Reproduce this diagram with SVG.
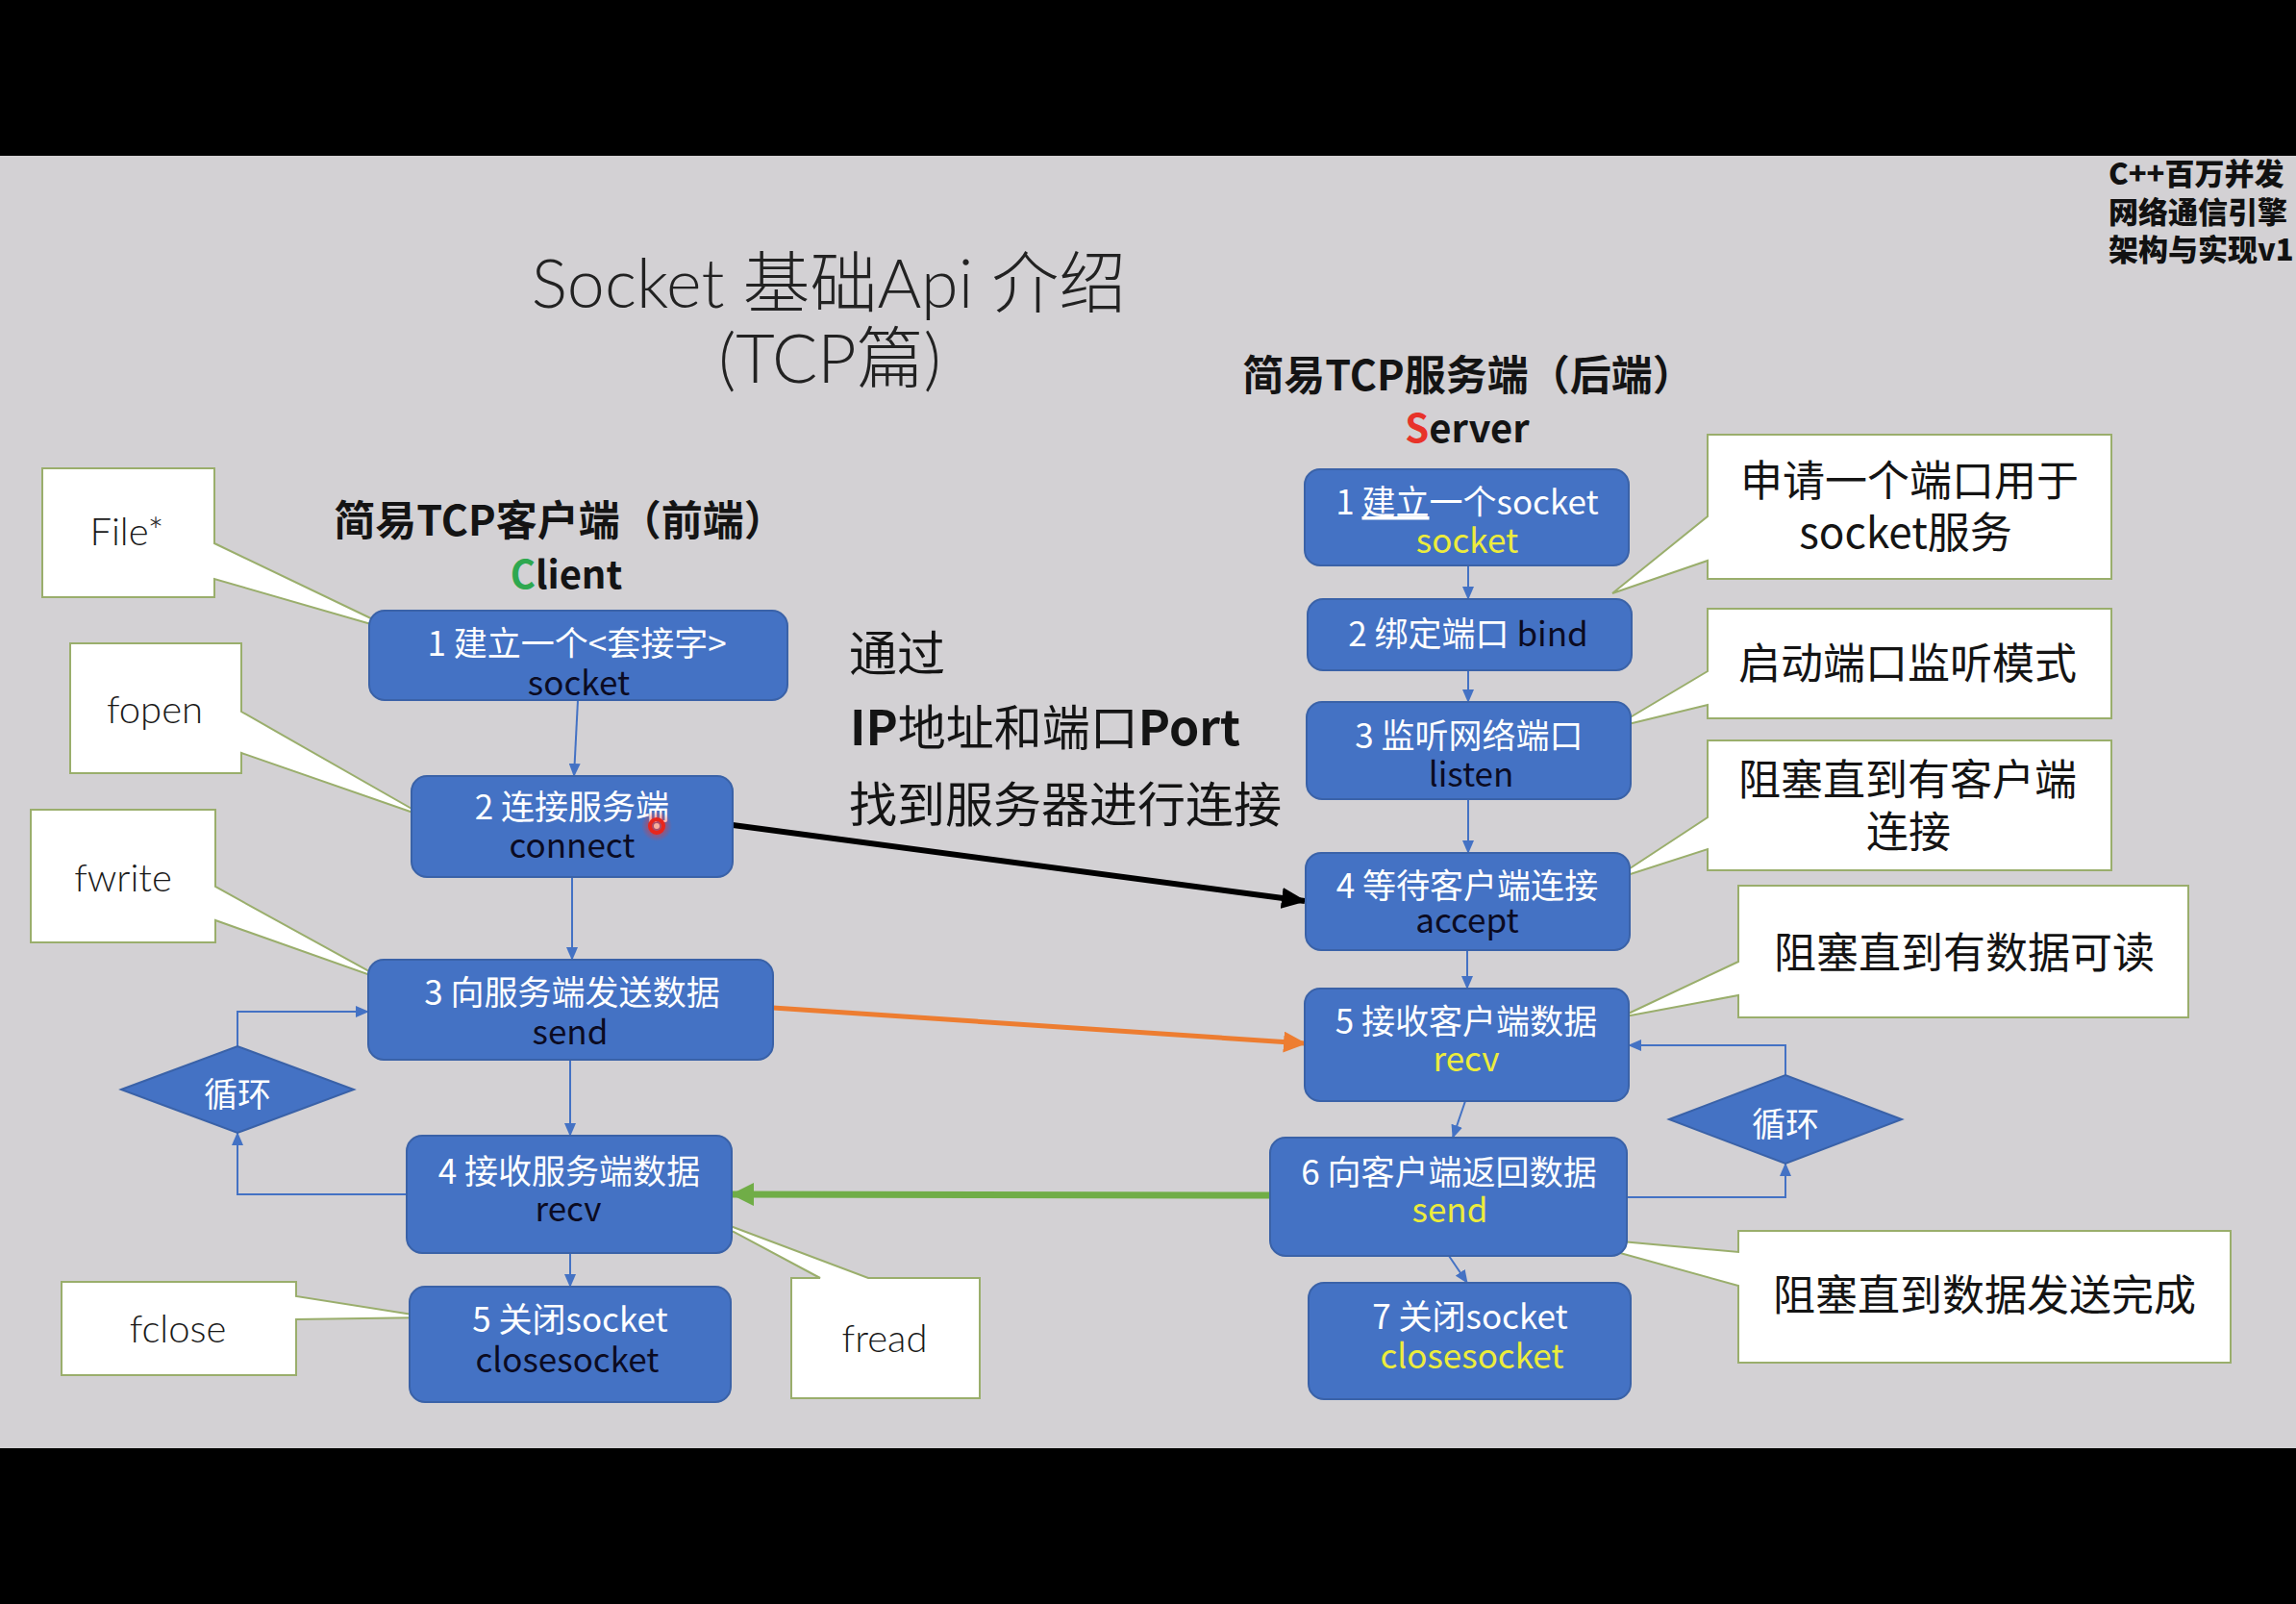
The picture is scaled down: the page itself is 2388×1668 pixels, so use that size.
<svg xmlns="http://www.w3.org/2000/svg" width="2388" height="1668" viewBox="0 0 2388 1668">
<defs>
<style>
.bg{fill:#d3d1d4}
.box{fill:#4472c4;stroke:#3a62a8;stroke-width:2}
.dia{fill:#4472c4;stroke:#3a62a8;stroke-width:2}
.callout{fill:#ffffff;stroke:#9aae6c;stroke-width:2;stroke-linejoin:miter}
.cjk{font-family:"Noto Sans CJK SC","Noto Sans",sans-serif}
.bt{font-family:"Noto Sans CJK SC","Noto Sans",sans-serif;font-size:35px;text-anchor:middle}
.w{fill:#ffffff}
.k{fill:#0b0b22}
.y{fill:#ecec3c}
.lat{font-family:Lato,"Noto Sans CJK SC",sans-serif;font-weight:300;font-size:40px;fill:#1a1a1a;text-anchor:middle}
.ct{font-family:"Noto Sans CJK SC",sans-serif;font-size:44px;fill:#141414;text-anchor:middle}
.head{font-family:"Noto Sans CJK SC",sans-serif;font-weight:bold;font-size:43px;fill:#141414;text-anchor:middle}
.flow{stroke:#4472c4;stroke-width:2;fill:none}
</style>
<marker id="ab" markerUnits="userSpaceOnUse" markerWidth="14" markerHeight="12" refX="13" refY="6" orient="auto"><path d="M0,0 L14,6 L0,12 z" fill="#4472c4"/></marker>
<marker id="ak" markerUnits="userSpaceOnUse" markerWidth="26" markerHeight="22" refX="24" refY="11" orient="auto"><path d="M0,0 L26,11 L0,22 z" fill="#000"/></marker>
<marker id="ao" markerUnits="userSpaceOnUse" markerWidth="24" markerHeight="22" refX="22" refY="11" orient="auto"><path d="M0,0 L24,11 L0,22 z" fill="#ed7d31"/></marker>
<marker id="ag" markerUnits="userSpaceOnUse" markerWidth="24" markerHeight="24" refX="22" refY="12" orient="auto"><path d="M0,0 L24,12 L0,24 z" fill="#70ad47"/></marker>
<radialGradient id="glow"><stop offset="0.4" stop-color="#ff3020" stop-opacity="0.55"/><stop offset="1" stop-color="#ff3020" stop-opacity="0"/></radialGradient>
</defs>

<rect x="0" y="0" width="2388" height="1668" fill="#000"/>
<rect class="bg" x="0" y="162" width="2388" height="1344"/>

<g id="title">
<text font-family="Lato,'Noto Sans CJK SC',sans-serif" font-weight="300" font-size="70" fill="#222" text-anchor="middle"><tspan x="862" y="320">Socket 基础Api 介绍</tspan><tspan x="863" y="398">(TCP篇)</tspan></text>
</g>

<g id="watermark">
<text font-family="'Noto Sans CJK SC',sans-serif" font-weight="900" font-size="31" fill="#111"><tspan x="2193" y="192">C++百万并发</tspan><tspan x="2193" y="232">网络通信引擎</tspan><tspan x="2193" y="271">架构与实现v1</tspan></text>
</g>

<g id="client-heading">
<text class="head"><tspan x="582" y="557">简易TCP客户端（前端）</tspan><tspan x="589" y="612" font-size="40"><tspan fill="#2ea84f">C</tspan>lient</tspan></text>
</g>
<g id="server-heading">
<text class="head"><tspan x="1527" y="406">简易TCP服务端（后端）</tspan><tspan x="1526" y="460" font-size="40"><tspan fill="#e8332a">S</tspan>erver</tspan></text>
</g>

<g id="middle-text">
<text class="cjk" font-size="50" fill="#141414"><tspan x="883" y="698">通过</tspan><tspan x="884" y="775"><tspan font-weight="bold">IP</tspan>地址和端口<tspan font-weight="bold">Port</tspan></tspan><tspan x="883" y="855">找到服务器进行连接</tspan></text>
</g>

<g id="connectors">
<path class="flow" d="M601,728 L597,807" marker-end="url(#ab)"/>
<path class="flow" d="M595,912 L595,998" marker-end="url(#ab)"/>
<path class="flow" d="M593,1102 L593,1181" marker-end="url(#ab)"/>
<path class="flow" d="M593,1303 L593,1338" marker-end="url(#ab)"/>
<path class="flow" d="M423,1242 H247 V1178" marker-end="url(#ab)"/>
<path class="flow" d="M247,1088 V1052 H383" marker-end="url(#ab)"/>
<path class="flow" d="M1527,588 L1527,623" marker-end="url(#ab)"/>
<path class="flow" d="M1527,697 L1527,730" marker-end="url(#ab)"/>
<path class="flow" d="M1527,831 L1527,887" marker-end="url(#ab)"/>
<path class="flow" d="M1526,988 L1526,1028" marker-end="url(#ab)"/>
<path class="flow" d="M1524,1145 L1511,1183" marker-end="url(#ab)"/>
<path class="flow" d="M1507,1306 L1526,1334" marker-end="url(#ab)"/>
<path class="flow" d="M1692,1245 H1857 V1210" marker-end="url(#ab)"/>
<path class="flow" d="M1857,1118 V1087 H1694" marker-end="url(#ab)"/>
<path d="M762,858 L1357,937" stroke="#000" stroke-width="6" fill="none" marker-end="url(#ak)"/>
<path d="M804,1048 L1357,1085" stroke="#ed7d31" stroke-width="5" fill="none" marker-end="url(#ao)"/>
<path d="M1321,1243 L762,1242" stroke="#70ad47" stroke-width="7" fill="none" marker-end="url(#ag)"/>
</g>

<g id="callout-file"><path class="callout" d="M44,487 H223 V565 L417,658 L223,602 V621 H44 Z"/><text class="lat" x="132" y="567">File*</text></g>
<g id="callout-fopen"><path class="callout" d="M73,669 H251 V740 L444,850 L251,783 V804 H73 Z"/><text class="lat" x="161" y="752">fopen</text></g>
<g id="callout-fwrite"><path class="callout" d="M32,842 H224 V922 L402,1020 L224,957 V980 H32 Z"/><text class="lat" x="128" y="927">fwrite</text></g>
<g id="callout-fclose"><path class="callout" d="M64,1333 H308 V1348 L448,1370 L308,1372 V1430 H64 Z"/><text class="lat" x="185" y="1396">fclose</text></g>
<g id="callout-fread"><path class="callout" d="M823,1329 H853 L733,1265 L903,1329 H1019 V1454 H823 Z"/><text class="lat" x="920" y="1406">fread</text></g>

<g id="callout-a"><path class="callout" d="M1776,452 H2196 V602 H1776 V583 L1677,617 L1776,537 Z"/><text class="ct"><tspan x="1986" y="516">申请一个端口用于</tspan><tspan x="1982" y="570">socket服务</tspan></text></g>
<g id="callout-b"><path class="callout" d="M1776,633 H2196 V747 H1776 V733 L1677,757 L1776,698 Z"/><text class="ct" x="1984" y="706">启动端口监听模式</text></g>
<g id="callout-c"><path class="callout" d="M1776,770 H2196 V905 H1776 V883 L1677,915 L1776,850 Z"/><text class="ct"><tspan x="1984" y="827">阻塞直到有客户端</tspan><tspan x="1985" y="881">连接</tspan></text></g>
<g id="callout-d"><path class="callout" d="M1808,921 H2276 V1058 H1808 V1035 L1685,1058 L1808,1000 Z"/><text class="ct" x="2043" y="1007">阻塞直到有数据可读</text></g>
<g id="callout-e"><path class="callout" d="M1808,1280 H2320 V1417 H1808 V1337 L1620,1285 L1808,1302 Z"/><text class="ct" x="2064" y="1363">阻塞直到数据发送完成</text></g>

<g id="c1"><rect class="box" x="384" y="635" width="435" height="93" rx="16"/><text class="bt"><tspan class="w" x="600" y="682">1 建立一个&lt;套接字&gt;</tspan><tspan class="k" x="602" y="723">socket</tspan></text></g>
<g id="c2"><rect class="box" x="428" y="807" width="334" height="105" rx="16"/><text class="bt"><tspan class="w" x="595" y="852">2 连接服务端</tspan><tspan class="k" x="595" y="892">connect</tspan></text></g>
<g id="c3"><rect class="box" x="383" y="998" width="421" height="104" rx="16"/><text class="bt"><tspan class="w" x="595" y="1045">3 向服务端发送数据</tspan><tspan class="k" x="593" y="1086">send</tspan></text></g>
<g id="c4"><rect class="box" x="423" y="1181" width="338" height="122" rx="16"/><text class="bt"><tspan class="w" x="592" y="1231">4 接收服务端数据</tspan><tspan class="k" x="591" y="1270">recv</tspan></text></g>
<g id="c5"><rect class="box" x="426" y="1338" width="334" height="120" rx="16"/><text class="bt"><tspan class="w" x="593" y="1385">5 关闭socket</tspan><tspan class="k" x="590" y="1427">closesocket</tspan></text></g>

<g id="s1"><rect class="box" x="1357" y="488" width="337" height="100" rx="16"/><text class="bt"><tspan class="w" x="1526" y="535">1 <tspan text-decoration="underline">建立</tspan>一个socket</tspan><tspan class="y" x="1526" y="575">socket</tspan></text></g>
<g id="s2"><rect class="box" x="1360" y="623" width="337" height="74" rx="16"/><text class="bt w" x="1527" y="672">2 绑定端口 <tspan class="k">bind</tspan></text></g>
<g id="s3"><rect class="box" x="1359" y="730" width="337" height="101" rx="16"/><text class="bt"><tspan class="w" x="1528" y="778">3 监听网络端口</tspan><tspan class="k" x="1530" y="818">listen</tspan></text></g>
<g id="s4"><rect class="box" x="1358" y="887" width="337" height="101" rx="16"/><text class="bt"><tspan class="w" x="1526" y="934">4 等待客户端连接</tspan><tspan class="k" x="1526" y="970">accept</tspan></text></g>
<g id="s5"><rect class="box" x="1357" y="1028" width="337" height="117" rx="16"/><text class="bt"><tspan class="w" x="1525" y="1075">5 接收客户端数据</tspan><tspan class="y" x="1525" y="1114">recv</tspan></text></g>
<g id="s6"><rect class="box" x="1321" y="1183" width="371" height="123" rx="16"/><text class="bt"><tspan class="w" x="1507" y="1232">6 向客户端返回数据</tspan><tspan class="y" x="1508" y="1271">send</tspan></text></g>
<g id="s7"><rect class="box" x="1361" y="1334" width="335" height="121" rx="16"/><text class="bt"><tspan class="w" x="1529" y="1382">7 关闭socket</tspan><tspan class="y" x="1531" y="1423">closesocket</tspan></text></g>

<g id="loop-client"><polygon class="dia" points="126,1133 247,1088 368,1133 247,1178"/><text class="bt w" x="247" y="1151">循环</text></g>
<g id="loop-server"><polygon class="dia" points="1736,1164 1857,1118 1978,1164 1857,1210"/><text class="bt w" x="1857" y="1182">循环</text></g>

<g id="cursor">
<circle cx="683" cy="859" r="16" fill="url(#glow)"/>
<circle cx="683" cy="859" r="7" fill="none" stroke="#e8261c" stroke-width="4"/>
<circle cx="683" cy="859" r="3" fill="#f8b0a0"/>
</g>
</svg>
